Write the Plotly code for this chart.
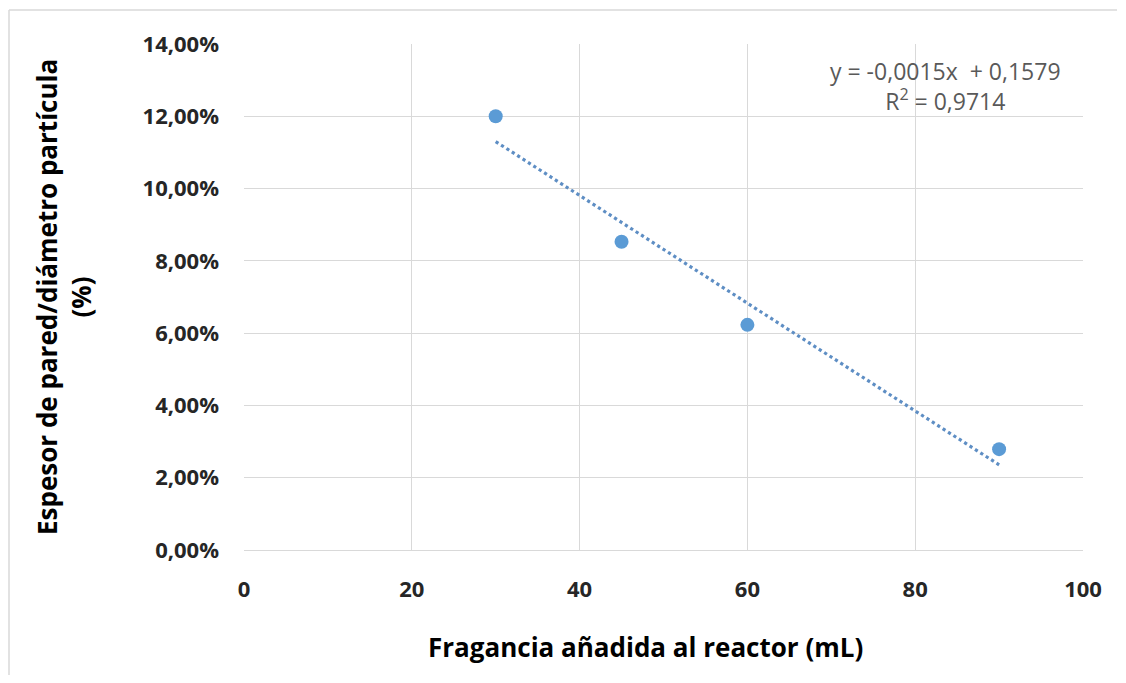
import numpy as np
import plotly.graph_objects as go

# Data
fragancia_ml = [30, 45, 60, 90]
espesor_ratio = [0.120, 0.0853, 0.0623, 0.0279]
y_tick_vals = [0, 0.02, 0.04, 0.06, 0.08, 0.10, 0.12, 0.14]
y_tick_text = ["0,00%", "2,00%", "4,00%", "6,00%", "8,00%", "10,00%", "12,00%", "14,00%"]
x_tick_vals = [0, 20, 40, 60, 80, 100]
equation_text = "y = -0,0015x  + 0,1579"
r2_text = "R<sup>2</sup> = 0,9714"
x_title = "Fragancia añadida al reactor (mL)"
y_title = "Espesor de pared/diámetro partícula<br>(%)"

# Linear trendline (least squares)
slope, intercept = np.polyfit(fragancia_ml, espesor_ratio, 1)
trend_x = [min(fragancia_ml), max(fragancia_ml)]
trend_y = [slope * v + intercept for v in trend_x]

blue = "#5B9BD5"
font_family = "Open Sans, Liberation Sans, Arial, sans-serif"

# plot area in page pixels (page has 8px body offset)
OFF = 8
FIG_W, FIG_H = 1110, 667
PL, PR, PT, PB = 244, 1083, 44, 550
PW, PH = PR - PL, PB - PT


def px(x):
    return (x - PL) / PW


def py(y):
    return (PB - y) / PH


fig = go.Figure()
fig.add_trace(go.Scatter(
    x=trend_x, y=trend_y, mode="lines",
    line=dict(color="#5E8EC4", width=3.2, dash="dot"),
    showlegend=False, hoverinfo="skip",
))
fig.add_trace(go.Scatter(
    x=fragancia_ml, y=espesor_ratio, mode="markers",
    marker=dict(color=blue, size=14),
    showlegend=False,
))

fig.update_layout(
    width=FIG_W, height=FIG_H,
    margin=dict(l=PL - OFF, r=FIG_W + OFF - PR, t=PT - OFF, b=FIG_H + OFF - PB),
    paper_bgcolor="white", plot_bgcolor="white",
    font=dict(family=font_family, color="#262626"),
    xaxis=dict(
        range=[0, 100], tickvals=x_tick_vals,
        showgrid=True, gridcolor="#D9D9D9", gridwidth=1,
        zeroline=False, showline=True, linecolor="#D9D9D9", linewidth=1,
        tickfont=dict(size=22, family=font_family, color="#262626", weight="bold"),
        ticks="", ticklabelstandoff=20,
    ),
    yaxis=dict(
        range=[0, 0.14], tickvals=y_tick_vals, ticktext=y_tick_text,
        showgrid=True, gridcolor="#D9D9D9", gridwidth=1,
        zeroline=False, showline=False,
        tickfont=dict(size=22, family=font_family, color="#262626", weight="bold"),
        ticks="", ticklabelstandoff=24,
    ),
    shapes=[
        dict(type="line", xref="paper", yref="paper",
             x0=px(9), x1=px(FIG_W + OFF - 1), y0=py(10), y1=py(10),
             line=dict(color="#D9D9D9", width=1.5)),
        dict(type="line", xref="paper", yref="paper",
             x0=px(9), x1=px(9), y0=py(10), y1=py(FIG_H + OFF),
             line=dict(color="#D9D9D9", width=1.5)),
    ],
    annotations=[
        dict(text=equation_text + "<br>" + r2_text,
             xref="paper", yref="paper",
             x=px(945), y=py(86),
             xanchor="center", yanchor="middle", align="center",
             showarrow=False,
             font=dict(size=23, family=font_family, color="#595959")),
        dict(text="<b>" + x_title + "</b>",
             xref="paper", yref="paper",
             x=px(645), y=py(647),
             xanchor="center", yanchor="middle", showarrow=False,
             font=dict(size=26, family=font_family, color="#000000")),
        dict(text="<b>" + y_title + "</b>",
             xref="paper", yref="paper",
             x=px(64), y=py(297), textangle=-90,
             xanchor="center", yanchor="middle", align="center", showarrow=False,
             font=dict(size=26, family=font_family, color="#000000")),
    ],
)

fig.write_html("out.html")
